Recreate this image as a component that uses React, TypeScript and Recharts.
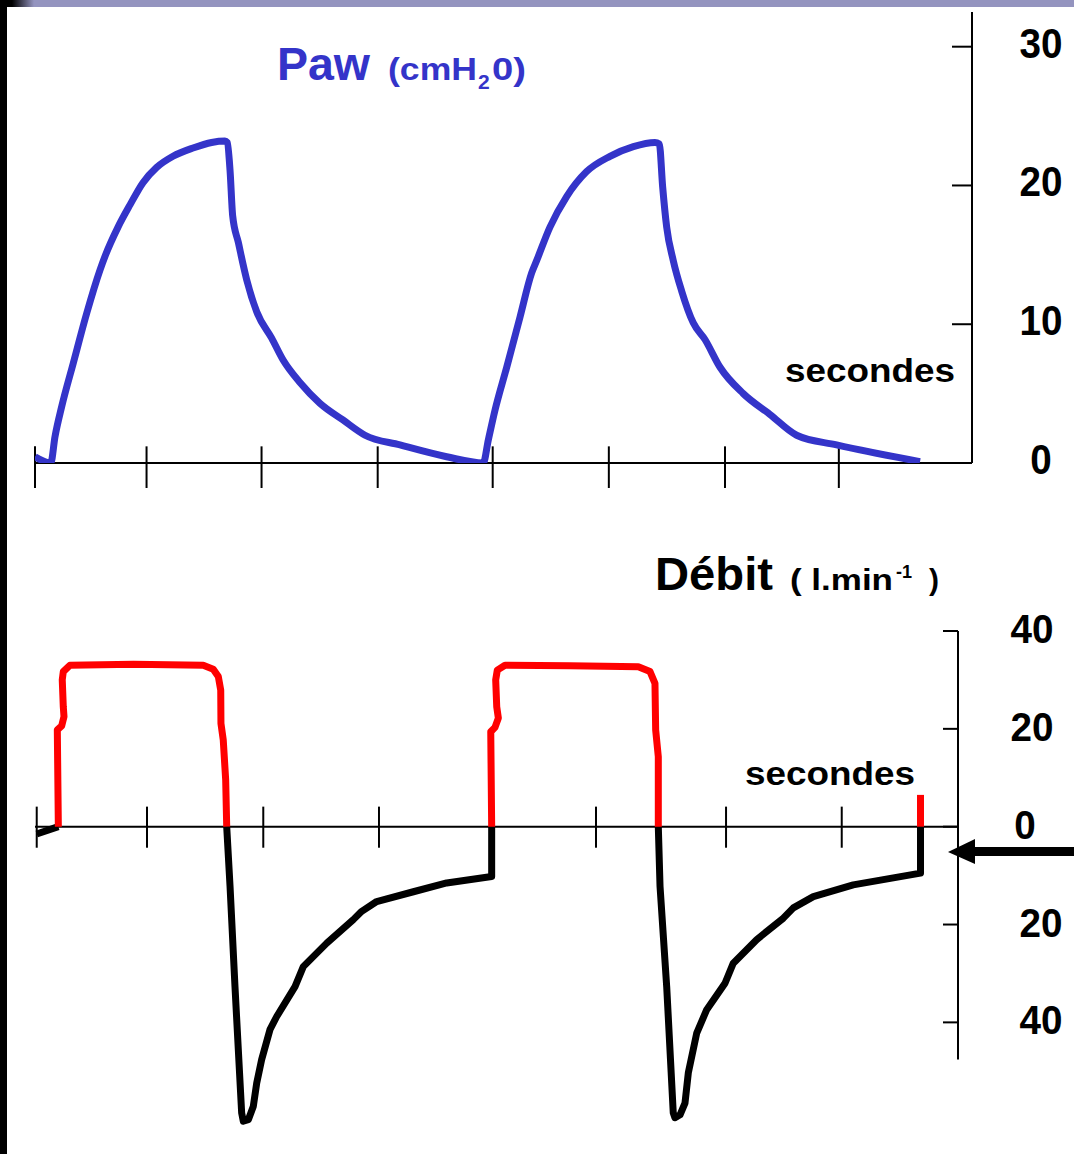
import React from 'react';
import { LineChart, Line, XAxis, YAxis, ReferenceLine } from 'recharts';

// ---------- Paw (cmH2O) vs time (s) ----------
const pawCycle1: [number, number][] = [
  [0, 0.45], [0.137, 0], [0.174, 1.9], [0.232, 4.06], [0.333, 7.2], [0.45, 10.8], [0.565, 13.9],
  [0.609, 14.9], [0.722, 17.0], [0.826, 18.6], [0.939, 20.2], [1.058, 21.3], [1.2, 22.1],
  [1.374, 22.7], [1.536, 23.1], [1.652, 23.2], [1.672, 23.1], [1.696, 21.1], [1.719, 17.8],
  [1.768, 15.9], [1.841, 13.2], [1.928, 10.9], [2.058, 9.0], [2.159, 7.4], [2.304, 5.8],
  [2.478, 4.3], [2.678, 3.1], [2.87, 2.0], [3.174, 1.3], [3.58, 0.45], [3.898, 0],
];
const pawCycle2: [number, number][] = [
  [3.942, 1.66], [4.0, 3.8], [4.102, 6.9], [4.217, 10.5], [4.319, 13.7], [4.363, 14.6],
  [4.478, 17.0], [4.623, 19.2], [4.797, 21.0], [5.0, 22.1], [5.203, 22.8], [5.391, 23.1],
  [5.429, 23.0], [5.458, 19.9], [5.493, 17.0], [5.55, 14.6], [5.623, 12.4], [5.724, 10.1],
  [5.826, 8.9], [5.957, 6.9], [6.159, 5.0], [6.391, 3.5], [6.623, 2.0], [6.971, 1.3], [7.696, 0.1],
];
const pawTimeTicks = [0, 0.97, 1.97, 2.98, 3.98, 4.99, 6.0, 6.99];
const pawTickValues = [0, 10, 20, 30];
const pawTickLabels = ['0', '10', '20', '30'];
const pawTimeMax = 8.148;
const pawMax = 32.5;

// ---------- Débit (l.min-1) vs time (s) ----------
const expi0: [number, number][] = [[0.015, -1.5], [0.203, 0]];
const inspi1: [number, number][] = [
  [0.203, 0], [0.194, 19.8], [0.232, 20.6], [0.252, 22.5], [0.246, 24.5], [0.237, 30.0],
  [0.246, 31.7], [0.304, 33.0], [0.855, 33.2], [1.463, 33.0], [1.55, 32.2], [1.594, 30.7],
  [1.615, 27.9], [1.617, 21.1], [1.637, 17.7], [1.658, 9.6], [1.667, 0],
];
const expi1: [number, number][] = [
  [1.667, 0], [1.696, -12.2], [1.739, -32.7], [1.797, -58.5], [1.811, -60.2], [1.855, -59.9],
  [1.898, -57.2], [1.928, -52.4], [1.971, -47.6], [2.043, -41.5], [2.102, -38.8], [2.261, -32.7],
  [2.333, -28.6], [2.537, -23.8], [2.768, -19.0], [2.841, -17.3], [2.971, -15.3], [3.29, -13.3],
  [3.58, -11.5], [3.971, -10.2], [3.971, 0],
];
const inspi2: [number, number][] = [
  [3.971, 0], [3.963, 19.4], [4.0, 20.3], [4.029, 22.2], [4.015, 24.5], [4.006, 30.0],
  [4.02, 32.0], [4.087, 33.0], [4.652, 32.9], [5.246, 32.7], [5.348, 31.7], [5.391, 29.3],
  [5.397, 19.8], [5.42, 14.3], [5.42, 0],
];
const expi2: [number, number][] = [
  [5.42, 0], [5.435, -12.2], [5.493, -32.7], [5.55, -58.5], [5.565, -59.5], [5.609, -58.9],
  [5.652, -56.5], [5.681, -50.3], [5.754, -42.2], [5.841, -37.4], [6.0, -32.0], [6.072, -27.9],
  [6.275, -23.1], [6.507, -18.7], [6.594, -16.6], [6.768, -14.3], [7.115, -11.9], [7.7, -9.5],
  [7.7, 0],
];
const inspi3: [number, number][] = [[7.7, 0], [7.7, 6.5]];
const flowTimeTicks = [0.015, 0.974, 1.985, 2.991, 4.878, 6.009, 7.015];
const flowTickValues = [40, 20, 0, -20, -40];
const flowTickLabels = ['40', '20', '0', '20', '40'];
const flowTimeMax = 8.026;
const flowMin = -62;
const flowMax = 40;
const flowAxisBottom = -47.6;

const toRows = (pts: [number, number][]) => pts.map(([t, v]) => ({ t, v }));

const BLUE = '#3434c9';
const FONT = '"Liberation Sans", Arial, Helvetica, sans-serif';

const PawTick = (props: any) => {
  const { x, y, payload } = props;
  const label = pawTickLabels[pawTickValues.indexOf(payload.value)] ?? String(payload.value);
  return (
    <g>
      <line x1={x - 20} x2={x} y1={y} y2={y} stroke="#000" strokeWidth={2} />
      <text x={x + 69} y={y + 11} textAnchor="middle" fontFamily={FONT} fontWeight="bold"
        fontSize={43} fill="#000" textLength={label.length * 21.5} lengthAdjust="spacingAndGlyphs">
        {label}
      </text>
    </g>
  );
};

const FlowTick = (props: any) => {
  const { x, y, payload } = props;
  const label = flowTickLabels[flowTickValues.indexOf(payload.value)] ?? String(payload.value);
  const dx = payload.value < 0 ? 83 : payload.value === 0 ? 67 : 74;
  return (
    <g>
      <line x1={x - 15} x2={x} y1={y} y2={y} stroke="#000" strokeWidth={2} />
      <text x={x + dx} y={y + 12} textAnchor="middle" fontFamily={FONT} fontWeight="bold"
        fontSize={40} fill="#000" textLength={label.length * 21.5} lengthAdjust="spacingAndGlyphs">
        {label}
      </text>
    </g>
  );
};

export default function App() {
  const pawRows = toRows([...pawCycle1, ...pawCycle2]);
  return (
    <div style={{ position: 'absolute', left: 0, top: 0, width: 1074, height: 1154, background: '#fff', overflow: 'hidden', fontFamily: FONT }}>
      {/* frame */}
      <div style={{ position: 'absolute', left: 0, top: 0, width: 1074, height: 7, background: 'linear-gradient(to right, #000 0px, #000 12px, #9494bf 34px, #9494bf 100%)' }} />
      <div style={{ position: 'absolute', left: 0, top: 0, width: 7, height: 1154, background: '#000' }} />

      {/* Paw chart */}
      <div style={{ position: 'absolute', left: 0, top: 0 }}>
        <LineChart width={1074} height={500} margin={{ top: 12, right: 42, bottom: 37, left: 35 }}>
          <XAxis type="number" dataKey="t" domain={[0, pawTimeMax]} hide allowDataOverflow />
          <YAxis orientation="right" type="number" domain={[0, pawMax]} ticks={pawTickValues}
            width={60} axisLine={{ stroke: '#000', strokeWidth: 2 }} tickLine={false}
            tickSize={0} tickMargin={0} tick={<PawTick />} interval={0} allowDataOverflow />
          <ReferenceLine y={0} stroke="#000" strokeWidth={2} ifOverflow="visible" />
          {pawTimeTicks.map((t) => (
            <ReferenceLine key={'pt' + t} segment={[{ x: t, y: 1.2 }, { x: t, y: -1.8 }]}
              stroke="#000" strokeWidth={2} ifOverflow="visible" />
          ))}
          <Line data={pawRows} dataKey="v" type="monotoneX" stroke={BLUE} strokeWidth={7}
            dot={false} isAnimationActive={false} strokeLinejoin="round" />
        </LineChart>
      </div>

      {/* Débit chart */}
      <div style={{ position: 'absolute', left: 0, top: 600 }}>
        <LineChart width={1074} height={554} margin={{ top: 31, right: 56, bottom: 24, left: 35 }}>
          <XAxis type="number" dataKey="t" domain={[0, flowTimeMax]} hide allowDataOverflow />
          <YAxis orientation="right" type="number" domain={[flowMin, flowMax]} ticks={flowTickValues}
            width={60} axisLine={false} tickLine={false} tickSize={0} tickMargin={0}
            tick={<FlowTick />} interval={0} allowDataOverflow />
          <ReferenceLine segment={[{ x: flowTimeMax, y: flowAxisBottom }, { x: flowTimeMax, y: flowMax }]}
            stroke="#000" strokeWidth={2} ifOverflow="visible" />
          <ReferenceLine y={0} stroke="#000" strokeWidth={2} ifOverflow="visible" />
          {flowTimeTicks.map((t) => (
            <ReferenceLine key={'ft' + t} segment={[{ x: t, y: 4.1 }, { x: t, y: -4.3 }]}
              stroke="#000" strokeWidth={2} ifOverflow="visible" />
          ))}
          {[expi0, expi1, expi2].map((s, i) => (
            <Line key={'e' + i} data={toRows(s)} dataKey="v" type="linear" stroke="#000" strokeWidth={7}
              dot={false} isAnimationActive={false} strokeLinejoin="round" />
          ))}
          {[inspi1, inspi2, inspi3].map((s, i) => (
            <Line key={'i' + i} data={toRows(s)} dataKey="v" type="linear" stroke="#ff0000" strokeWidth={7}
              dot={false} isAnimationActive={false} strokeLinejoin="round" />
          ))}
        </LineChart>
      </div>

      {/* titles & annotations */}
      <svg width={1074} height={1154} style={{ position: 'absolute', left: 0, top: 0, pointerEvents: 'none' }}>
        <g fontFamily={FONT} fontWeight="bold">
          <text x={277} y={80} fontSize={46} fill={BLUE} textLength={93} lengthAdjust="spacingAndGlyphs">Paw</text>
          <text y={80} fill={BLUE} fontSize={31}>
            <tspan x={388} textLength={89} lengthAdjust="spacingAndGlyphs">(cmH</tspan>
            <tspan x={478} y={89} fontSize={21}>2</tspan>
            <tspan x={492} y={80} textLength={34} lengthAdjust="spacingAndGlyphs">0)</tspan>
          </text>
          <text x={785} y={382} fontSize={34} fill="#000" textLength={170} lengthAdjust="spacingAndGlyphs">secondes</text>

          <text x={655} y={590} fontSize={46} fill="#000" textLength={118} lengthAdjust="spacingAndGlyphs">Débit</text>
          <text y={590} fill="#000" fontSize={30}>
            <tspan x={790} textLength={103} lengthAdjust="spacingAndGlyphs">( l.min</tspan>
            <tspan x={896} y={578} fontSize={18}>-1</tspan>
            <tspan x={929} y={590}>)</tspan>
          </text>
          <text x={745} y={785} fontSize={34} fill="#000" textLength={170} lengthAdjust="spacingAndGlyphs">secondes</text>
        </g>
        <rect x={970} y={847} width={104} height={9} fill="#000" />
        <polygon points="948,852 975,839 975,864" fill="#000" />
      </svg>
    </div>
  );
}
